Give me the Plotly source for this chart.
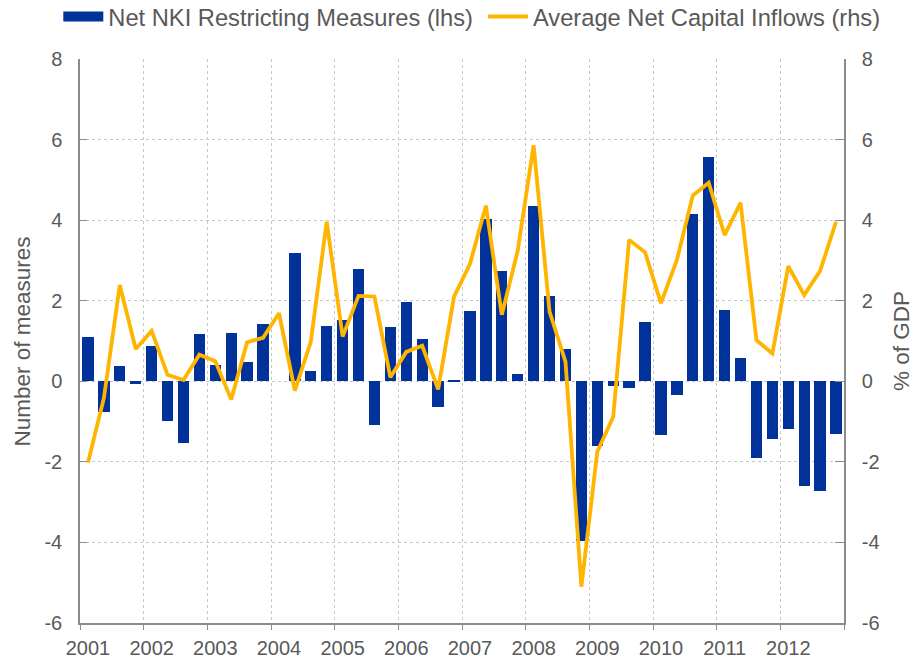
import plotly.graph_objects as go

# quarterly data, 2001Q1 - 2012Q4
years = list(range(2001, 2013))
quarters = [f"{y}Q{q}" for y in years for q in range(1, 5)]

# net NKI restricting measures (number, lhs)
measures = [
    1.11, -0.77, 0.38, -0.06,
    0.88, -0.99, -1.54, 1.17,
    0.40, 1.20, 0.48, 1.41,
    0.00, 3.18, 0.26, 1.38,
    1.51, 2.79, -1.08, 1.35,
    1.97, 1.04, -0.65, 0.02,
    1.74, 4.03, 2.74, 0.18,
    4.34, 2.11, 0.79, -3.97,
    -1.61, -0.11, -0.16, 1.48,
    -1.33, -0.35, 4.15, 5.57,
    1.77, 0.57, -1.91, -1.44,
    -1.19, -2.61, -2.73, -1.30,
]

# average net capital inflows (% of GDP, rhs)
inflows = [
    -2.02, -0.42, 2.39, 0.80,
    1.25, 0.16, 0.03, 0.66,
    0.50, -0.45, 0.97, 1.08,
    1.69, -0.23, 0.98, 3.96,
    1.11, 2.12, 2.10, 0.10,
    0.73, 0.88, -0.20, 2.10,
    2.91, 4.36, 1.65, 3.24,
    5.86, 1.73, 0.49, -5.10,
    -1.75, -0.88, 3.51, 3.20,
    1.94, 3.01, 4.61, 4.93,
    3.63, 4.43, 1.02, 0.69,
    2.86, 2.14, 2.74, 3.96,
]

y_ticks = [-6, -4, -2, 0, 2, 4, 6, 8]

BLUE = '#003299'
YELLOW = '#FFB400'
TEXT = '#595959'
GRID = '#c8c8c8'
AXIS = '#8c8c8c'
FONT = 'Liberation Sans, Arial, sans-serif'

# bar/line positions at quarter midpoints
xpos = [i + 0.5 for i in range(len(quarters))]

fig = go.Figure()

fig.add_trace(go.Bar(
    x=xpos, y=measures, width=0.71,
    marker=dict(color=BLUE, line=dict(width=0)),
    name='Net NKI Restricting Measures (lhs)',
    showlegend=False, yaxis='y',
    customdata=quarters,
    hovertemplate='%{customdata}: %{y:.2f}<extra></extra>',
))
fig.add_trace(go.Scatter(
    x=xpos, y=inflows, mode='lines',
    line=dict(color=YELLOW, width=3.8),
    name='Average Net Capital Inflows (rhs)',
    showlegend=False, yaxis='y2',
    customdata=quarters,
    hovertemplate='%{customdata}: %{y:.2f}<extra></extra>',
))

# legend entries (wide rectangle for the bars, line for the inflows),
# each in its own legend so they sit on one row
fig.add_trace(go.Scatter(
    x=[None], y=[None], mode='lines',
    line=dict(color=BLUE, width=11),
    name='Net NKI Restricting Measures (lhs)',
    legend='legend',
))
fig.add_trace(go.Scatter(
    x=[None], y=[None], mode='lines',
    line=dict(color=YELLOW, width=4),
    name='Average Net Capital Inflows (rhs)',
    legend='legend2',
))

legend_style = dict(
    orientation='h',
    xref='container', yref='container',
    xanchor='left', yanchor='middle', y=0.975,
    font=dict(size=23.7, color=TEXT),
    itemwidth=40,
    bgcolor='rgba(0,0,0,0)',
)

fig.update_layout(
    width=914, height=660,
    margin=dict(l=80, r=70, t=59, b=37, autoexpand=False),
    plot_bgcolor='white',
    paper_bgcolor='white',
    font=dict(family=FONT, color=TEXT, size=20),
    showlegend=True,
    legend=dict(legend_style, x=0.0638),
    legend2=dict(legend_style, x=0.5284),
    bargap=0,
    xaxis=dict(
        range=[0, len(quarters)],
        tickmode='array',
        tickvals=[4 * k + 0.5 for k in range(len(years))],
        ticktext=[str(y) for y in years],
        ticks='', showgrid=False,
        showline=True, linecolor=AXIS, linewidth=1.5,
        tickfont=dict(size=20, color=TEXT),
        ticklabelstandoff=6,
        zeroline=False,
        minor=dict(
            tick0=0, dtick=4, ticks='outside', ticklen=5,
            tickcolor=AXIS, showgrid=True, gridcolor=GRID,
            griddash='dot', gridwidth=1,
        ),
    ),
    yaxis=dict(
        range=[-6, 8],
        tickmode='array', tickvals=y_ticks, ticktext=[str(v) for v in y_ticks],
        ticks='inside', ticklen=7, tickcolor=AXIS,
        showline=True, linecolor=AXIS, linewidth=1.5,
        showgrid=True, gridcolor=GRID, griddash='dot', gridwidth=1,
        zeroline=False,
        tickfont=dict(size=20, color=TEXT),
        ticklabelstandoff=12,
    ),
    yaxis2=dict(
        range=[-6, 8],
        tickmode='array', tickvals=y_ticks, ticktext=[str(v) for v in y_ticks],
        overlaying='y', side='right',
        ticks='inside', ticklen=9, tickcolor=AXIS,
        showline=True, linecolor=AXIS, linewidth=1.5,
        showgrid=False, zeroline=False,
        tickfont=dict(size=20, color=TEXT),
        ticklabelstandoff=12,
    ),
    annotations=[
        dict(text='Number of measures', textangle=-90,
             xref='paper', yref='paper', x=-0.0753, y=0.5,
             xanchor='center', yanchor='middle', showarrow=False,
             font=dict(size=22.5, color=TEXT)),
        dict(text='% of GDP', textangle=-90,
             xref='paper', yref='paper', x=1.0745, y=0.5,
             xanchor='center', yanchor='middle', showarrow=False,
             font=dict(size=22.5, color=TEXT)),
    ],
)

# drop the default page margin so the figure sits at the window's corner
fig.write_html("out.html", config={'displayModeBar': False},
               post_script="document.body.style.margin='0px';")
